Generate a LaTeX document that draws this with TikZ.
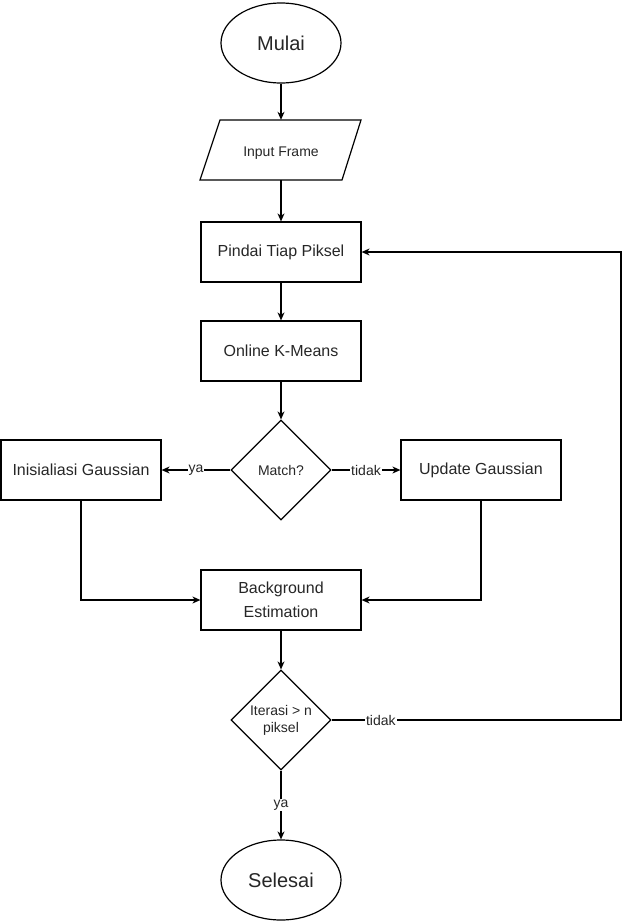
\documentclass[tikz,border=0pt]{standalone}
\usepackage{fontspec}
\setmainfont{Liberation Sans}
\usetikzlibrary{arrows.meta,shapes.geometric}
\begin{document}
\begin{tikzpicture}[x=1pt,y=-1pt,
  every node/.style={text=black!85},
  ln/.style={line width=1.2pt, draw=black},
  arr/.style={ln, -{Stealth[length=8pt,width=7pt,inset=2.5pt]}},
  box/.style={ln, rectangle, minimum width=160pt, minimum height=60pt, inner sep=0pt, align=center, font=\fontsize{16}{24}\selectfont},
  term/.style={ln, ellipse, minimum width=120pt, minimum height=80pt, inner sep=0pt, font=\fontsize{20}{24}\selectfont},
  dec/.style={ln, diamond, minimum width=100pt, minimum height=100pt, inner sep=0pt, align=center, font=\fontsize{14}{17}\selectfont},
  lbl/.style={fill=white, inner sep=1pt, font=\fontsize{14}{17}\selectfont}
]
\useasboundingbox (0,0) rectangle (630,921);
\node[term] (mulai) at (281,43) {Mulai};
\node[minimum width=160pt, minimum height=60pt, inner sep=0pt] (inp) at (281,150) {};
\draw[ln, line join=miter] (220,120) -- (361,120) -- (342,180) -- (200,180) -- cycle;
\node[font=\fontsize{14}{17}\selectfont, inner sep=0pt] (inptext) at (281,153) {Input Frame};
\node[box] (pindai) at (281,252) {Pindai Tiap Piksel};
\node[box] (kmeans) at (281,351) {Online K-Means};
\node[dec] (match) at (281,470) {Match?};
\node[box] (inis) at (81,470) {Inisialiasi Gaussian};
\node[box] (upd) at (481,470) {Update Gaussian};
\node[box] (bg) at (281,600) {Background\\Estimation};
\node[dec] (iter) at (281,720) {Iterasi > n\\piksel};
\node[term] (selesai) at (281,880) {Selesai};
\coordinate (c1) at (621,720);
\coordinate (c2) at (621,252);

\draw[arr] (mulai) -- (inp);
\draw[arr] (inp) -- (pindai);
\draw[arr] (pindai) -- (kmeans);
\draw[arr] (kmeans) -- (match);
\draw[arr] (match) -- node[lbl]{ya} (inis);
\draw[arr] (match) -- node[lbl]{tidak} (upd);
\draw[arr] (inis.south) |- (bg.west);
\draw[arr] (upd.south) |- (bg.east);
\draw[arr] (bg) -- (iter);
\draw[arr] (iter.east) -- node[lbl,pos=0.17]{tidak} (c1) -- (c2) -- (pindai.east);
\draw[arr] (iter) -- node[lbl]{ya} (selesai);
\end{tikzpicture}
\end{document}
